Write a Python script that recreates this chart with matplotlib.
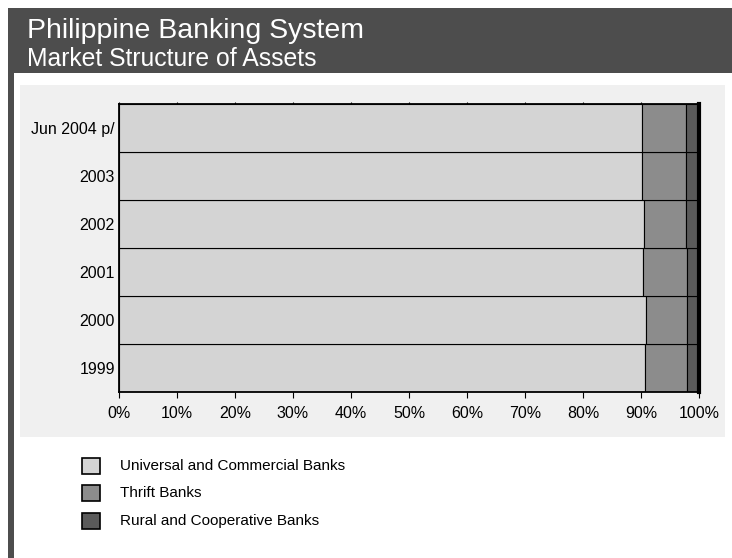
import matplotlib.pyplot as plt
from matplotlib.patches import Rectangle
import numpy as np

plt.rcParams['font.family'] = ['Liberation Sans', 'DejaVu Sans']

# data (shares of total assets, %)
years = ['1999', '2000', '2001', '2002', '2003', 'Jun 2004 p/']
universal = [90.7, 90.9, 90.4, 90.5, 90.2, 90.2]
thrift = [7.3, 7.1, 7.6, 7.3, 7.5, 7.5]
rural = [2.0, 2.0, 2.0, 2.2, 2.3, 2.3]
series_names = ['Universal and Commercial Banks', 'Thrift Banks', 'Rural and Cooperative Banks']
colors = ['#d4d4d4', '#8c8c8c', '#5a5a5a']

W, H = 732, 558
fig = plt.figure(figsize=(W / 100, H / 100), dpi=100)
fig.patch.set_facecolor('white')

def fx(px):
    return px / W

def fy(py):
    return 1 - py / H

# header and frame
fig.add_artist(Rectangle((fx(8), fy(73)), fx(732) - fx(8), fy(8) - fy(73), zorder=-2,
                         transform=fig.transFigure, facecolor='#4d4d4d', edgecolor='none'))
fig.add_artist(Rectangle((fx(8), 0), fx(14) - fx(8), fy(73), zorder=-2,
                         transform=fig.transFigure, facecolor='#4d4d4d', edgecolor='none'))
fig.add_artist(Rectangle((fx(20), fy(437)), fx(725) - fx(20), fy(85) - fy(437), zorder=-2,
                         transform=fig.transFigure, facecolor='#f0f0f0', edgecolor='none'))
fig.text(fx(27), fy(31), 'Philippine Banking System', color='white', fontsize=20.5, va='center')
fig.text(fx(27), fy(59), 'Market Structure of Assets', color='white', fontsize=17.8, va='center')

# chart
ax = fig.add_axes([fx(119), fy(392), fx(699) - fx(119), fy(104) - fy(392)])
ax.set_facecolor('#f0f0f0')
y = np.arange(len(years))
left = np.zeros(len(years))
for vals, c, name in zip([universal, thrift, rural], colors, series_names):
    ax.barh(y, vals, left=left, height=1.0, color=c, edgecolor='black', linewidth=0.8, label=name)
    left += np.array(vals)

ax.set_xlim(0, 100)
ax.set_ylim(-0.5, len(years) - 0.5)
ax.set_yticks(y)
ax.set_yticklabels(years, fontsize=11.5)
ax.set_xticks(np.arange(0, 101, 10))
ax.set_xticklabels([f'{v}%' for v in range(0, 101, 10)], fontsize=11.5)
ax.tick_params(axis='x', direction='out', length=4, pad=6)
ax.tick_params(axis='x', which='major', top=True)
ax.xaxis.set_tick_params(which='major', length=4)
for t in ax.xaxis.get_major_ticks():
    t.tick2line.set_markersize(1.5)
ax.tick_params(axis='y', length=0, pad=3)
for s in ['left', 'bottom', 'top']:
    ax.spines[s].set_linewidth(1.3)
ax.spines['right'].set_linewidth(3)

# legend
leg_y = [466, 493, 521]
for name, c, py in zip(series_names, colors, leg_y):
    fig.add_artist(Rectangle((fx(82), fy(py + 8)), fx(18), 16 / H, transform=fig.transFigure,
                             facecolor=c, edgecolor='black', linewidth=1.2))
    fig.text(fx(120), fy(py), name, fontsize=11, va='center', color='black')

fig.savefig('out.png', dpi=100)
